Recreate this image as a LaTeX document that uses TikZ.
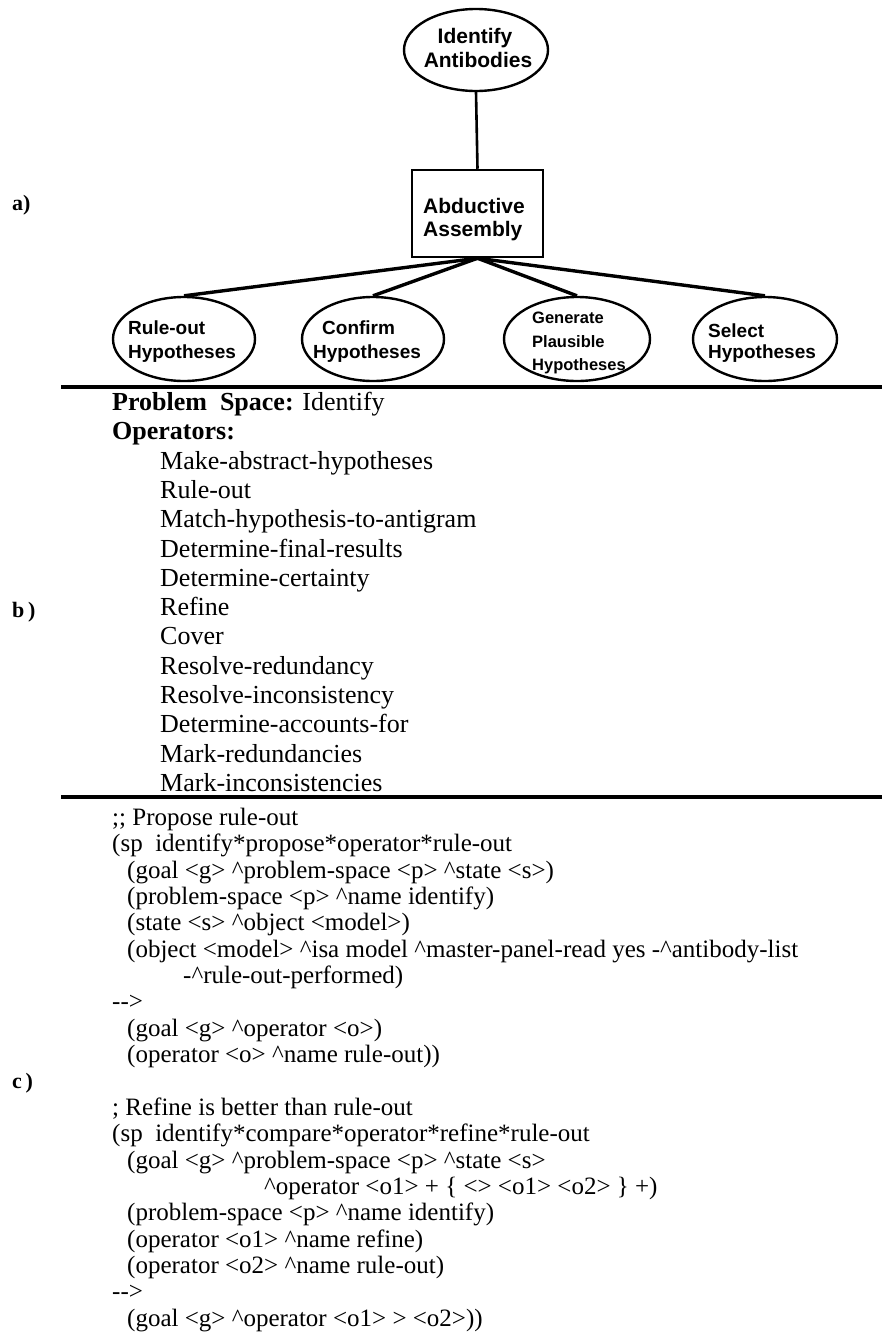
\documentclass[tikz,border=0pt]{standalone}
\usepackage{fontspec}
\setmainfont{Liberation Serif}
\newfontfamily\sansb{Liberation Sans}
\newfontfamily\codefont{Liberation Serif}
\usetikzlibrary{shapes.geometric}
\newcommand{\crt}{\textasciicircum}
\newcommand{\arr}{-\kern0pt-\kern0pt>}
\begin{document}
\begin{tikzpicture}[x=1pt,y=-1pt,
  ell/.style={draw, ellipse, line width=2.4pt, inner sep=0pt},
  boxnode/.style={draw, rectangle, line width=2.5pt, inner sep=0pt, minimum width=131pt, minimum height=87pt},
  lbl/.style={font=\sansb\bfseries\fontsize{21}{24}\selectfont, anchor=base west, inner sep=0pt},
  lbls/.style={font=\sansb\bfseries\fontsize{19}{22}\selectfont, anchor=base west, inner sep=0pt},
  lblg/.style={font=\sansb\bfseries\fontsize{16.5}{20}\selectfont, anchor=base west, inner sep=0pt},
  thinlink/.style={line width=2.6pt},
  thicklink/.style={line width=3.4pt},
  rulel/.style={line width=3.6pt},
  part/.style={font=\bfseries\fontsize{22}{24}\selectfont, anchor=base west, inner sep=0pt},
  btext/.style={font=\fontsize{26}{29}\selectfont, anchor=base west, inner sep=0pt},
  ctext/.style={font=\codefont\fontsize{25}{26}\selectfont, anchor=base west, inner sep=0pt}
]
\fill[white] (0,0) rectangle (882,1336);
\useasboundingbox (0,0) rectangle (882,1336);

% ---- a) tree ----
\node[ell, minimum width=144pt, minimum height=82pt] (ident) at (476,50) {};
\node[lbl, anchor=base] (identA) at (475,43) {Identify};
\node[lbl, anchor=base] (identB) at (478,67) {Antibodies};

\node[boxnode] (abd) at (477.5,213.5) {};
\node[lbl] (abdA) at (423,213) {Abductive};
\node[lbl] (abdB) at (423,236) {Assembly};

\node[ell, minimum width=142pt, minimum height=84pt] (ro) at (184,339) {};
\node[ell, minimum width=142pt, minimum height=84pt] (cf) at (373,339) {};
\node[ell, minimum width=146pt, minimum height=84pt] (gp) at (577,339) {};
\node[ell, minimum width=144pt, minimum height=84pt] (sh) at (765,339) {};

\node[lbls] (roA) at (128,334) {Rule-out};
\node[lbls] (roB) at (128,358) {Hypotheses};
\node[lbls] (cfA) at (322,334) {Confirm};
\node[lbls] (cfB) at (313,358) {Hypotheses};
\node[lblg] (gpA) at (532,323) {Generate};
\node[lblg] (gpB) at (532,347) {Plausible};
\node[lblg] (gpC) at (532,370) {Hypotheses};
\node[lbls] (shA) at (708,337) {Select};
\node[lbls] (shB) at (708,358) {Hypotheses};

\draw[thinlink] (ident.south) -- (abd.north);
\draw[thicklink] (abd.south) -- (ro.north);
\draw[thicklink] (abd.south) -- (cf.north);
\draw[thicklink] (abd.south) -- (gp.north);
\draw[thicklink] (abd.south) -- (sh.north);

\node[part] (pa) at (12,210) {a)};

% ---- rules ----
\draw[rulel] (61,387) -- (882,387);
\draw[rulel] (61,797) -- (882,797);

% ---- b) ----
\node[part] (pb) at (12,617) {b\,)};
\node[btext] (ps) at (112,410.5) {\textbf{Problem\ \ Space:} Identify};
\node[btext] (ops) at (112,439.8) {\textbf{Operators:}};
\foreach \t [count=\i] in {Make-abstract-hypotheses, Rule-out, Match-hypothesis-to-antigram,
  Determine-final-results, Determine-certainty, Refine, Cover, Resolve-redundancy,
  Resolve-inconsistency, Determine-accounts-for, Mark-redundancies, Mark-inconsistencies}
  \node[btext] (op\i) at (160,{439.8+29.3*\i}) {\t};

% ---- c) ----
\node[part] (pc) at (12,1088) {c\,)};
\node[ctext] (c1) at (112,825.5) {;; Propose rule-out};
\node[ctext] (c2) at (112,851.85) {(sp\ \ identify*propose*operator*rule-out};
\node[ctext] (c3) at (127,878.2) {(goal <g> \crt problem-space <p> \crt state <s>)};
\node[ctext] (c4) at (127,904.55) {(problem-space <p> \crt name identify)};
\node[ctext] (c5) at (127,930.9) {(state <s> \crt object <model>)};
\node[ctext] (c6) at (127,957.25) {(object <model> \crt isa model \crt master-panel-read yes -\crt antibody-list};
\node[ctext] (c7) at (183,983.6) {-\crt rule-out-performed)};
\node[ctext] (c8) at (112,1009.95) {\arr};
\node[ctext] (c9) at (127,1036.3) {(goal <g> \crt operator <o>)};
\node[ctext] (c10) at (127,1062.65) {(operator <o> \crt name rule-out))};

\node[ctext] (d1) at (112,1115.35) {; Refine is better than rule-out};
\node[ctext] (d2) at (112,1141.7) {(sp\ \ identify*compare*operator*refine*rule-out};
\node[ctext] (d3) at (127,1168.05) {(goal <g> \crt problem-space <p> \crt state <s>};
\node[ctext] (d4) at (264,1194.4) {\crt operator <o1> + \{ <> <o1> <o2> \} +)};
\node[ctext] (d5) at (127,1220.75) {(problem-space <p> \crt name identify)};
\node[ctext] (d6) at (127,1247.1) {(operator <o1> \crt name refine)};
\node[ctext] (d7) at (127,1273.45) {(operator <o2> \crt name rule-out)};
\node[ctext] (d8) at (112,1299.8) {\arr};
\node[ctext] (d9) at (127,1326.15) {(goal <g> \crt operator <o1> > <o2>))};
\end{tikzpicture}
\end{document}
